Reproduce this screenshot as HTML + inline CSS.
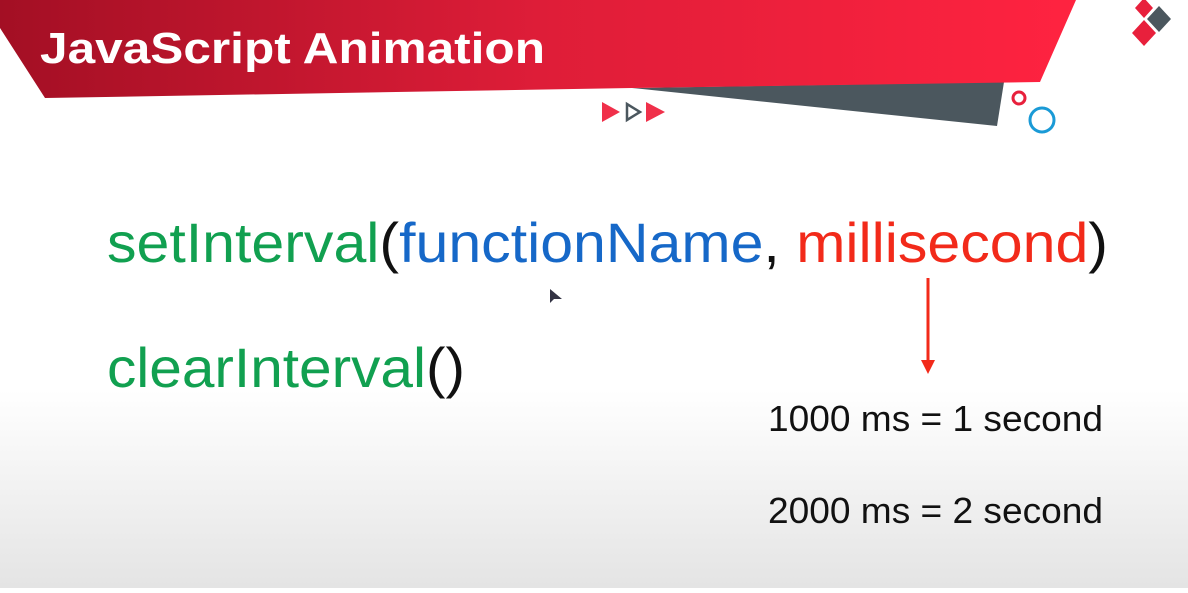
<!DOCTYPE html>
<html><head><meta charset="utf-8"><style>
html,body{margin:0;padding:0}
body{width:1188px;height:588px;overflow:hidden;background:linear-gradient(to bottom,#fff 0,#fff 390px,#e4e4e4 588px)}
</style></head><body>
<svg width="1188" height="588" viewBox="0 0 1188 588" xmlns="http://www.w3.org/2000/svg">
<defs>
<linearGradient id="rg" x1="0" x2="1" y1="0" y2="0">
<stop offset="0" stop-color="#a30f24"/><stop offset="0.5" stop-color="#de1d38"/><stop offset="1" stop-color="#ff2340"/>
</linearGradient>
</defs>
<polygon points="632,88 1004,82 997,126" fill="#4b575e"/>
<polygon points="0,0 1076,0 1040,82 632,88 45,98 0,28" fill="url(#rg)"/>
<text x="40" y="63" font-family="Liberation Sans, sans-serif" font-size="44" font-weight="bold" fill="#fff" textLength="505" lengthAdjust="spacingAndGlyphs">JavaScript Animation</text>
<polygon points="602,102 602,122 620,112" fill="#f0304a"/>
<polygon points="627,104 627,120 640,112" fill="none" stroke="#4b575e" stroke-width="2.5"/>
<polygon points="646,102 646,122 665,112" fill="#f0304a"/>
<circle cx="1019" cy="98" r="6" fill="none" stroke="#e8203c" stroke-width="3"/>
<circle cx="1042" cy="120" r="12" fill="none" stroke="#1a9ad6" stroke-width="3"/>
<polygon points="1144,-2 1153,8 1144,18 1135,8" fill="#e8203c"/>
<polygon points="1159,6 1171,19 1159,32 1147,19" fill="#4b575e"/>
<polygon points="1144,20 1156,33 1144,46 1132,33" fill="#e8203c"/>
<text x="107" y="262" font-family="Liberation Sans, sans-serif" font-size="56" textLength="1001" lengthAdjust="spacingAndGlyphs"><tspan fill="#11a050">setInterval</tspan><tspan fill="#111">(</tspan><tspan fill="#1668c8">functionName</tspan><tspan fill="#111">, </tspan><tspan fill="#f22a1a">millisecond</tspan><tspan fill="#111">)</tspan></text>
<text x="107" y="387" font-family="Liberation Sans, sans-serif" font-size="56" textLength="358" lengthAdjust="spacingAndGlyphs"><tspan fill="#11a050">clearInterval</tspan><tspan fill="#111">()</tspan></text>
<line x1="928" y1="278" x2="928" y2="362" stroke="#f22a1a" stroke-width="3"/>
<polygon points="921,360 935,360 928,374" fill="#f22a1a"/>
<polygon points="550,289 550,303 554,299 562,299" fill="#334"/>
<text x="768" y="431" font-family="Liberation Sans, sans-serif" font-size="36" fill="#111" textLength="335" lengthAdjust="spacingAndGlyphs">1000 ms = 1 second</text>
<text x="768" y="523" font-family="Liberation Sans, sans-serif" font-size="36" fill="#111" textLength="335" lengthAdjust="spacingAndGlyphs">2000 ms = 2 second</text>
</svg>
</body></html>
